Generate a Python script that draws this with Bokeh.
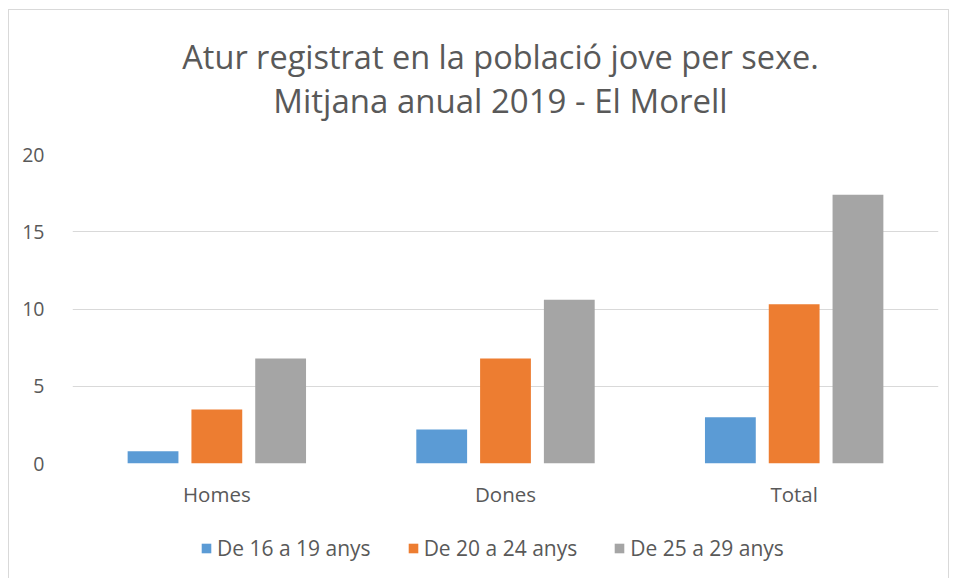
from bokeh.plotting import figure
from bokeh.layouts import column
from bokeh.models import FactorRange, Range1d, FixedTicker, Legend, LegendItem, Label
from bokeh.transform import dodge
from bokeh.embed import file_html
from bokeh.resources import INLINE

categories = ["Homes", "Dones", "Total"]
series_names = ["De 16 a 19 anys", "De 20 a 24 anys", "De 25 a 29 anys"]
de_16_19 = [0.8, 2.2, 3.0]
de_20_24 = [3.5, 6.8, 10.3]
de_25_29 = [6.8, 10.6, 17.4]
y_ticks = [0, 5, 10, 15, 20]
colors = ["#5B9BD5", "#ED7D31", "#A5A5A5"]
title_lines = ["Atur registrat en la població jove per sexe.", "Mitjana anual 2019 - El Morell"]

FONT = "Open Sans"
TXT = "#595959"
W = 939
BL, BR = 63, 10

# title strip
t = figure(width=W, height=132, output_backend="svg", toolbar_location=None, title=None,
           x_range=Range1d(0, W - BL - BR), y_range=Range1d(0, 132),
           x_axis_location=None, y_axis_location=None,
           min_border_left=BL, min_border_right=BR, min_border_top=0, min_border_bottom=0)
t.outline_line_color = None
t.xgrid.grid_line_color = None
t.ygrid.grid_line_color = None
for txt, yy, fs in zip(title_lines, [86, 42], ["32.5px", "33px"]):
    t.add_layout(Label(x=428, y=yy, text=txt, text_align="center", text_baseline="middle",
                       text_font=FONT, text_font_size=fs, text_color=TXT))

# main chart
p = figure(width=W, height=378, output_backend="svg", toolbar_location=None, title=None,
           x_range=FactorRange(factors=categories, range_padding=0),
           y_range=Range1d(0, 20),
           min_border_left=BL, min_border_right=BR, min_border_top=12, min_border_bottom=57)

data = dict(cats=categories, s1=de_16_19, s2=de_20_24, s3=de_25_29)
offsets = [-0.221, 0.0, 0.221]
for key, off, c in zip(["s1", "s2", "s3"], offsets, colors):
    p.vbar(x=dodge("cats", off, range=p.x_range), top=key, width=0.176, source=data,
           fill_color=c, line_color=None)

p.outline_line_color = None
p.xgrid.grid_line_color = None
p.ygrid.grid_line_color = "#d9d9d9"
p.ygrid.grid_line_width = 1
p.yaxis.ticker = FixedTicker(ticks=y_ticks)
for ax in (p.xaxis, p.yaxis):
    ax.axis_line_color = None
    ax.major_tick_line_color = None
    ax.minor_tick_line_color = None
    ax.major_label_text_font = FONT
    ax.major_label_text_color = TXT
p.yaxis.major_label_text_font_size = "19.5px"
p.xaxis.major_label_text_font_size = "20.5px"
p.yaxis.major_label_standoff = 22
p.xaxis.major_label_standoff = 10

# legend strip below the chart (its bars lie outside its visible range; only the legend shows)
q = figure(width=W, height=58, output_backend="svg", toolbar_location=None, title=None,
           x_range=FactorRange(factors=categories), y_range=Range1d(100, 101),
           x_axis_location=None, y_axis_location=None,
           min_border_left=BL, min_border_right=BR, min_border_top=0, min_border_bottom=0)
q.outline_line_color = None
q.xgrid.grid_line_color = None
q.ygrid.grid_line_color = None
legend_renderers = [q.vbar(x=dodge("cats", off, range=q.x_range), top=key, width=0.176, source=data,
                           fill_color=c, line_color=None)
                    for key, off, c in zip(["s1", "s2", "s3"], offsets, colors)]
legend = Legend(items=[LegendItem(label=n, renderers=[r]) for n, r in zip(series_names, legend_renderers)],
                orientation="horizontal", location=(128, 16),
                label_text_font=FONT, label_text_font_size="21px", label_text_color=TXT,
                glyph_width=12, glyph_height=12, spacing=36, label_standoff=5,
                border_line_color=None, background_fill_alpha=0, margin=0, padding=0)
q.add_layout(legend, "center")

layout = column(t, p, q, margin=(9, 0, 0, 8),
                styles={"border-top": "1px solid #d9d9d9", "border-left": "1px solid #d9d9d9",
                        "border-right": "1px solid #d9d9d9"})

open("out.html", "w").write(file_html(layout, INLINE))
